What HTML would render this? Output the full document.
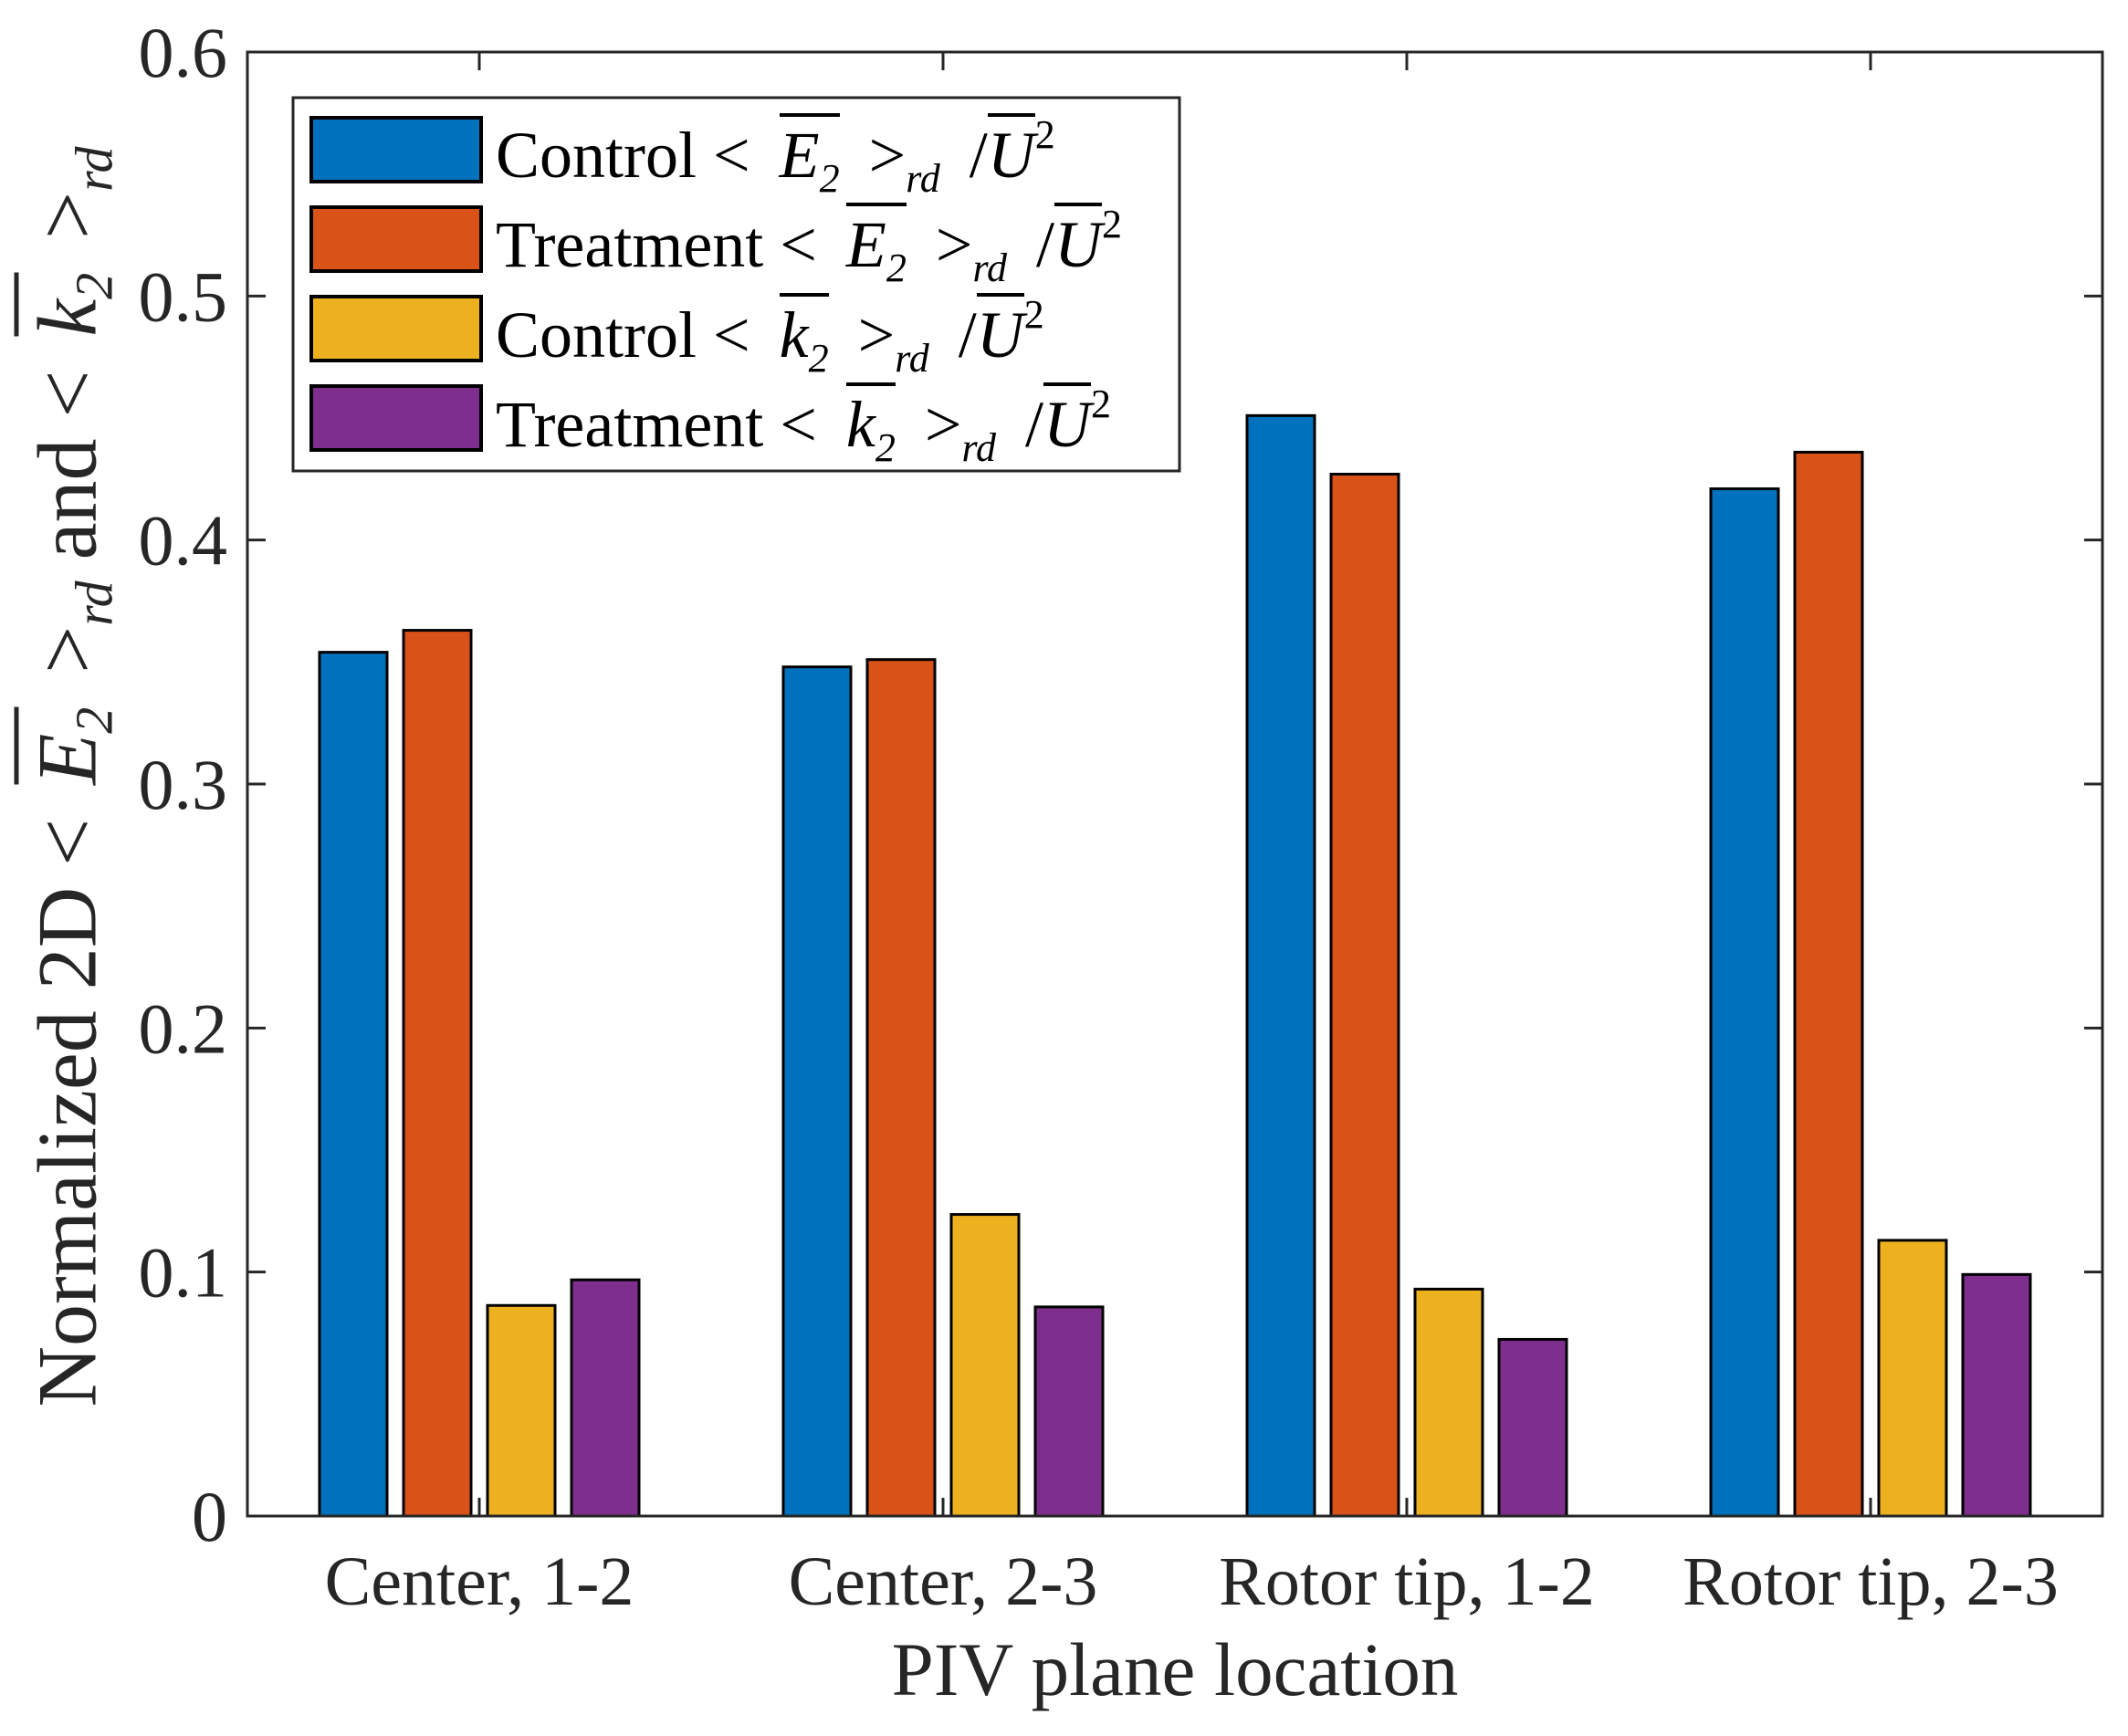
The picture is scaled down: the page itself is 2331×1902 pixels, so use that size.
<!DOCTYPE html>
<html><head><meta charset="utf-8"><style>
html,body{margin:0;padding:0;background:#fff;}
#wrap{position:relative;width:2331px;height:1902px;overflow:hidden;font-family:"Liberation Serif",serif;color:#262626;}
svg{position:absolute;left:0;top:0;}
.ov{border-top:4px solid #000;padding-top:2px;font-style:italic;}
.lg{position:absolute;left:543px;font-size:72px;color:#000;white-space:nowrap;line-height:1;}
.lg sub{font-size:44px;font-style:italic;vertical-align:-16px;}
.lg sup{font-size:44px;vertical-align:32px;}
.sp{display:inline-block;width:14px;}
#ylab{position:absolute;left:80px;top:851px;transform:translate(-50%,-50%) rotate(-90deg);font-size:92px;white-space:nowrap;line-height:1;}
#ylab sub{font-size:58px;font-style:italic;vertical-align:-18px;}
#ylab .ov{border-top:5px solid #262626;}
</style></head><body>
<div id="wrap">
<svg id="chart" width="2331" height="1902"></svg>
<div id="ylab">Normalized 2D &lt;<span class="sp"></span> <span class="ov">E<sub>2</sub></span> <span class="sp"></span>&gt;<sub>rd</sub> and &lt;<span class="sp"></span> <span class="ov">k<sub>2</sub></span> <span class="sp"></span>&gt;<sub>rd</sub></div>
<div class="lg" style="top:126px">Control &lt;<span class="sp"></span> <span class="ov">E<sub>2</sub></span> <span class="sp"></span>&gt;<sub>rd</sub> <span class="sp"></span>/<span class="ov">U</span><sup>2</sup></div>
<div class="lg" style="top:224px">Treatment &lt;<span class="sp"></span> <span class="ov">E<sub>2</sub></span> <span class="sp"></span>&gt;<sub>rd</sub> <span class="sp"></span>/<span class="ov">U</span><sup>2</sup></div>
<div class="lg" style="top:323px">Control &lt;<span class="sp"></span> <span class="ov">k<sub>2</sub></span> <span class="sp"></span>&gt;<sub>rd</sub> <span class="sp"></span>/<span class="ov">U</span><sup>2</sup></div>
<div class="lg" style="top:421px">Treatment &lt;<span class="sp"></span> <span class="ov">k<sub>2</sub></span> <span class="sp"></span>&gt;<sub>rd</sub> <span class="sp"></span>/<span class="ov">U</span><sup>2</sup></div>
</div>
<script>
const categories = ["Center, 1-2","Center, 2-3","Rotor tip, 1-2","Rotor tip, 2-3"];
const controlE = [0.354,0.348,0.451,0.421];
const treatmentE = [0.363,0.351,0.427,0.436];
const controlK = [0.0863,0.1236,0.093,0.113];
const treatmentK = [0.0968,0.0857,0.0724,0.099];
const yTicks = [0,0.1,0.2,0.3,0.4,0.5,0.6];
const yTickLabels = ["0","0.1","0.2","0.3","0.4","0.5","0.6"];
const seriesNames = ["control-e","treatment-e","control-k","treatment-k"];
const colors = ["#0072BD","#D95319","#EDB120","#7E2F8E"];

const L=271,R=2303,T=57,B=1661;
const NS="http://www.w3.org/2000/svg";
const svg=document.getElementById('chart');
function x(i){return L+(i+0.5)*(R-L)/categories.length;}
function y(v){return B-(v/0.6)*(B-T);}
function mk(tag,attrs){const e=document.createElementNS(NS,tag);for(const k in attrs)e.setAttribute(k,attrs[k]);svg.appendChild(e);return e;}

const series=[controlE,treatmentE,controlK,treatmentK];
const pitch=92, bw=74;
series.forEach((s,si)=>{
  s.forEach((v,i)=>{
    const cx=x(i)+(si-1.5)*pitch;
    const r=mk('rect',{x:cx-bw/2,y:y(v),width:bw,height:B-y(v),fill:colors[si],stroke:'#000','stroke-width':3});
    
    
  });
});
const box=mk('rect',{x:L,y:T,width:R-L,height:B-T,fill:'none',stroke:'#262626','stroke-width':3});


yTicks.forEach((v,i)=>{
  const yy=y(v);
  mk('line',{x1:L,x2:L+20,y1:yy,y2:yy,stroke:'#262626','stroke-width':3});
  mk('line',{x1:R,x2:R-20,y1:yy,y2:yy,stroke:'#262626','stroke-width':3});
  const t=mk('text',{x:L-22,y:yy+27,'text-anchor':'end','font-size':78,fill:'#262626','font-family':'Liberation Serif, serif'});
  t.textContent=yTickLabels[i];
  
  
});
categories.forEach((c,i)=>{
  const xx=x(i);
  mk('line',{x1:xx,x2:xx,y1:B,y2:B-20,stroke:'#262626','stroke-width':3});
  mk('line',{x1:xx,x2:xx,y1:T,y2:T+20,stroke:'#262626','stroke-width':3});
  const t=mk('text',{x:xx,y:1758,'text-anchor':'middle','font-size':76,fill:'#262626','font-family':'Liberation Serif, serif'});
  t.textContent=c;
  
  
});
const xt=mk('text',{x:1287,y:1857,'text-anchor':'middle','font-size':83,fill:'#262626','font-family':'Liberation Serif, serif'});
xt.textContent="PIV plane location";


const lb=mk('rect',{x:321,y:107,width:971,height:409,fill:'#fff',stroke:'#262626','stroke-width':3});


const rowsY=[129,227,325,423];
rowsY.forEach((ry,i)=>{
  const p=mk('rect',{x:341,y:ry,width:186,height:70,fill:colors[i],stroke:'#000','stroke-width':4});
  
  
});
</script>
</body></html>
